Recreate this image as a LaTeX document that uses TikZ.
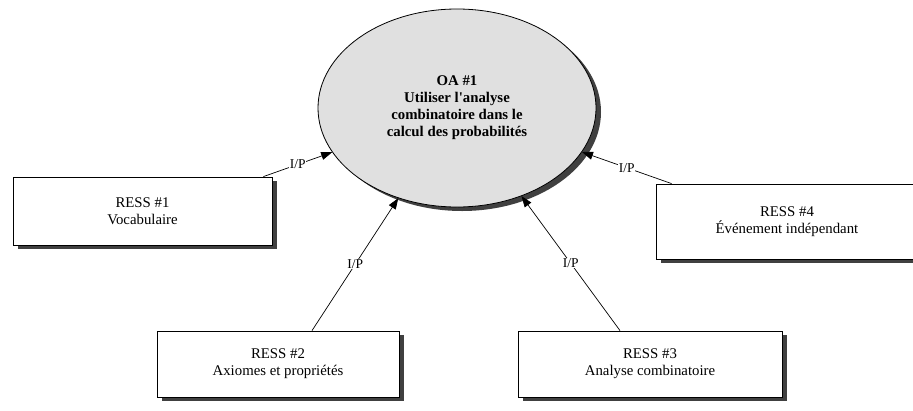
\documentclass[tikz,border=0pt]{standalone}
\usepackage{fontspec}
\setmainfont{Liberation Serif}
\usetikzlibrary{shapes.geometric,shadows,arrows.meta}
\definecolor{goalgray}{RGB}{224,224,224}
\definecolor{shadowgray}{RGB}{64,64,64}
\begin{document}
\begin{tikzpicture}[x=1pt,y=-1pt,
  ressbox/.style={rectangle, draw=black, line width=0.8pt, fill=white,
    inner sep=0pt, align=center, font=\fontsize{14.8}{17}\selectfont,
    drop shadow={shadow xshift=5pt, shadow yshift=-4pt, fill=shadowgray, opacity=1}},
  goal/.style={ellipse, draw=black, line width=0.8pt, fill=goalgray,
    minimum width=278pt, minimum height=198pt, inner sep=0pt, align=center,
    font=\fontsize{14.8}{17}\selectfont\bfseries,
    drop shadow={shadow xshift=5pt, shadow yshift=-4pt, fill=shadowgray, opacity=1}},
  link/.style={draw=black, line width=0.7pt, -{Triangle[length=11pt,width=8pt]}},
  iplabel/.style={fill=white, inner sep=0.5pt, font=\fontsize{13.5}{13.5}\selectfont}
]
\useasboundingbox (0,0) rectangle (913,410);
\clip (0,0) rectangle (913,410);

% central objective
\node[goal] (oa) at (457,108)
  {OA \#1\\Utiliser l\textquotesingle analyse\\combinatoire dans le\\calcul des probabilités};

% resources
\node[ressbox, minimum width=259pt, minimum height=68pt] (b1) at (142.5,211)
  {RESS \#1\\Vocabulaire};
\node[ressbox, minimum width=242pt, minimum height=66pt] (b2) at (278,364)
  {RESS \#2\\Axiomes et propriétés};
\node[ressbox, minimum width=264pt, minimum height=66pt] (b3) at (650,364)
  {RESS \#3\\Analyse combinatoire};
\node[ressbox, minimum width=262pt, minimum height=75pt] (b4) at (787,221.5)
  {RESS \#4\\Événement indépendant};

% input links
\draw[link] ([xshift=-9pt]b1.north east) -- (oa) node[iplabel, midway] {I/P};
\draw[link] ([xshift=34pt]b2.north) -- (oa) node[iplabel, midway] {I/P};
\draw[link] ([xshift=-30pt]b3.north) -- (oa) node[iplabel, midway] {I/P};
\draw[link] ([xshift=16pt]b4.north west) -- (oa) node[iplabel, midway] {I/P};
\end{tikzpicture}
\end{document}
